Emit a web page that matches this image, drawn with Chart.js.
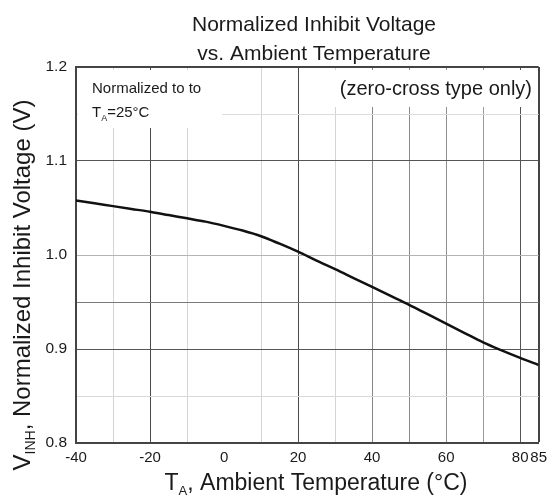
<!DOCTYPE html>
<html><head><meta charset="utf-8">
<script src="https://cdn.jsdelivr.net/npm/chart.js@4/dist/chart.umd.min.js"></script>
<style>html,body{margin:0;padding:0;background:#fff}#wrap{width:553px;height:499px}</style>
</head><body><div id="wrap"><canvas id="c" width="553" height="499"></canvas></div>
<script>
// ---- data ----
const temperatures = [-40,-35,-30,-25,-20,-15,-10,-5,0,5,10,15,20,25,30,35,40,45,50,55,60,65,70,75,80,85];
const normalizedVoltage = [1.058,1.055,1.052,1.049,1.046,1.0425,1.039,1.0355,1.031,1.026,1.020,1.012,1.0035,0.994,0.985,0.9755,0.966,0.9565,0.947,0.937,0.927,0.917,0.907,0.8985,0.8905,0.883];
const xTickValues = [-40,-30,-20,-10,0,10,20,30,40,50,60,70,80,85];
const xTickLabels = ['-40','','-20','','0','','20','','40','','60','','80','85'];
const yTickValues = [0.8,0.85,0.9,0.95,1.0,1.05,1.1,1.15,1.2];
const yTickLabels = ['0.8','','0.9','','1.0','','1.1','','1.2'];
const chartTitle = ['Normalized Inhibit Voltage','vs. Ambient Temperature'];
const noteLeft = ['Normalized to to','T','A','=25°C'];
const noteRight = '(zero-cross type only)';

// ---- styles ----
const FONT = "'Liberation Sans', Arial, sans-serif";
const xGridColors = {'-40':'#444','-30':'#d4d4d4','-20':'#4a4a4a','-10':'#d4d4d4','0':'rgba(0,0,0,0)','10':'#d4d4d4','20':'#4a4a4a','30':'#d4d4d4','40':'#858585','50':'#8a8a8a','60':'#8f8f8f','70':'#999','80':'#555','85':'#444'};
const yGridColors = {'80':'#444','85':'#d8d8d8','90':'#555','95':'#7a7a7a','100':'#b4b4b4','105':'rgba(0,0,0,0)','110':'#555','115':'#dcdcdc','120':'#444'};

function drawRich(ctx, parts, x, y, align) {
  let total = 0;
  parts.forEach(p => { ctx.font = p.size + 'px ' + FONT; p.w = ctx.measureText(p.t).width; total += p.w; });
  let cx = align === 'center' ? x - total / 2 : (align === 'right' ? x - total : x);
  parts.forEach(p => { ctx.font = p.size + 'px ' + FONT; ctx.fillText(p.t, cx, y + (p.dy || 0)); cx += p.w; });
}

const textPlugin = {
  id: 'texts',
  afterDraw(chart) {
    const ctx = chart.ctx;
    ctx.save();
    ctx.textBaseline = 'alphabetic';
    ctx.textAlign = 'left';
    // white label boxes that hide the grid
    ctx.fillStyle = '#fff';
    ctx.fillRect(78, 70, 144, 58);
    ctx.fillRect(318, 70, 219, 37);
    ctx.fillStyle = '#1a1a1a';
    // title
    drawRich(ctx, [{t: chartTitle[0], size: 21}], 314, 31, 'center');
    drawRich(ctx, [{t: chartTitle[1], size: 21}], 314, 60, 'center');
    // notes
    drawRich(ctx, [{t: noteLeft[0], size: 15}], 92, 93, 'left');
    drawRich(ctx, [{t: noteLeft[1], size: 15}, {t: noteLeft[2], size: 9, dy: 4}, {t: noteLeft[3], size: 15}], 92, 117, 'left');
    drawRich(ctx, [{t: noteRight, size: 20}], 532, 95, 'right');
    // x axis title
    drawRich(ctx, [{t: 'T', size: 23}, {t: 'A', size: 13, dy: 5}, {t: ', Ambient Temperature (°C)', size: 23}], 316, 490, 'center');
    // y axis title
    ctx.translate(30, 285);
    ctx.rotate(-Math.PI / 2);
    drawRich(ctx, [{t: 'V', size: 24}, {t: 'INH', size: 14, dy: 5}, {t: ', Normalized Inhibit Voltage (V)', size: 24}], 0, 0, 'center');
    ctx.restore();
  }
};

new Chart(document.getElementById('c'), {
  type: 'line',
  data: {
    datasets: [{
      data: temperatures.map((t, i) => ({x: t, y: normalizedVoltage[i]})),
      borderColor: '#111',
      borderWidth: 2.5,
      pointRadius: 0,
      cubicInterpolationMode: 'monotone',
      fill: false
    }]
  },
  options: {
    responsive: false,
    animation: false,
    devicePixelRatio: 1,
    layout: {padding: {top: 67, right: 14, left: 0, bottom: 0}},
    plugins: {legend: {display: false}, title: {display: false}, tooltip: {enabled: false}},
    scales: {
      x: {
        type: 'linear', min: -40, max: 85,
        afterBuildTicks: s => { s.ticks = xTickValues.map(v => ({value: v})); },
        afterFit: s => { s.height = 56; },
        ticks: {autoSkip: false, maxRotation: 0, minRotation: 0, padding: 6, color: '#1a1a1a',
          font: {family: FONT, size: 15}, callback: (v, i) => xTickLabels[i]},
        grid: {drawTicks: false, color: c => xGridColors[String(c.tick.value)] || '#ccc',
          lineWidth: c => (c.tick.value === 85 ? 2 : 1)},
        border: {color: '#444', width: 2}
      },
      y: {
        type: 'linear', min: 0.8, max: 1.2,
        afterBuildTicks: s => { s.ticks = yTickValues.map(v => ({value: v})); },
        afterFit: s => { s.width = 76; },
        ticks: {autoSkip: false, padding: 9, color: '#1a1a1a',
          font: {family: FONT, size: 15.5}, callback: (v, i) => yTickLabels[i]},
        grid: {drawTicks: false, color: c => yGridColors[String(Math.round(c.tick.value * 100))] || '#ccc',
          lineWidth: c => (Math.round(c.tick.value * 100) === 120 ? 2 : 1)},
        border: {color: '#444', width: 2}
      }
    }
  },
  plugins: [textPlugin]
});
</script>
</body></html>
